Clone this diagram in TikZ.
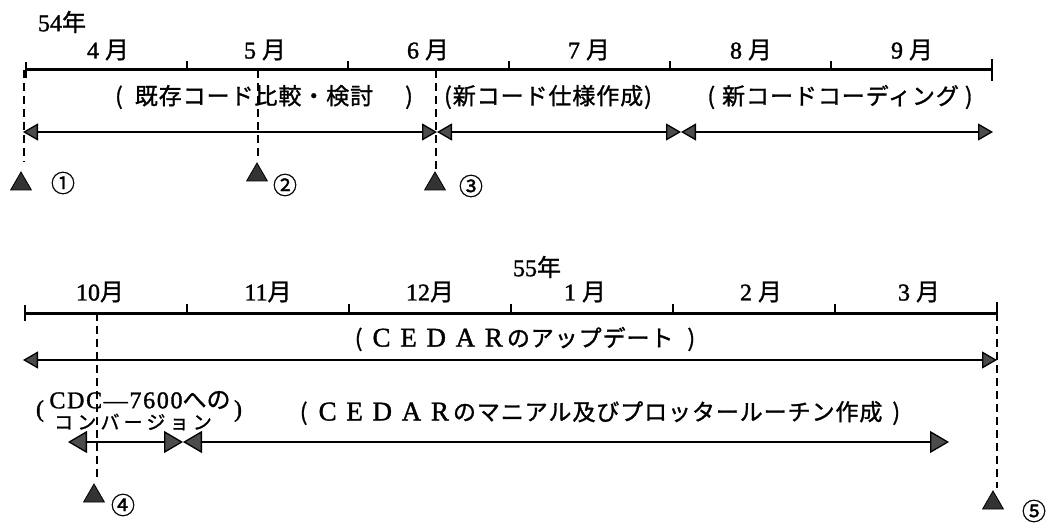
\documentclass[tikz,border=0pt]{standalone}
\usepackage{fontspec}
\setmainfont{Liberation Serif}[FakeBold=1.4]
\newfontfamily\jp{Noto Sans CJK JP}[FakeBold=1.2]
\newfontfamily\jpw{Noto Sans CJK JP}[LetterSpace=4,FakeBold=1.2]
\newfontfamily\jpk{Noto Sans CJK JP}[LetterSpace=22,FakeBold=1.2]
\newfontfamily\cedar{Liberation Serif}[LetterSpace=36,FakeBold=1.4]
\newfontfamily\latsp{Liberation Serif}[LetterSpace=7,FakeBold=1.4]
\usetikzlibrary{arrows.meta,shapes.geometric,calc}
\tikzset{
  tl/.style={line width=3pt},
  tickmark/.style={line width=1.8pt},
  act/.style={line width=1.3pt,
    {Triangle[length=15pt,width=17pt,fill=black!70]}-{Triangle[length=15pt,width=17pt,fill=black!70]}},
  actbig/.style={line width=1.3pt,
    {Triangle[length=19pt,width=22pt,fill=black!70]}-{Triangle[length=19pt,width=22pt,fill=black!70]}},
  dsh/.style={line width=1.4pt, dash pattern=on 8pt off 5pt},
  mk/.style={regular polygon, regular polygon sides=3, minimum size=24pt, inner sep=0pt,
    fill=black!80, draw=black, line width=0.8pt},
  mon/.style={inner sep=0pt, font=\fontsize{24}{24}\selectfont},
  yr/.style={inner sep=0pt, font=\fontsize{24}{24}\selectfont},
  num/.style={inner sep=0pt, font=\jp\fontsize{24}{24}\selectfont},
  txt/.style={inner sep=0pt, font=\jpw\fontsize{23}{23}\selectfont},
}
\begin{document}
\begin{tikzpicture}[x=1pt,y=-1pt]
\useasboundingbox (0,0) rectangle (1048,529);

% ---------- top timeline ----------
\foreach \i in {0,...,6} { \coordinate (a\i) at (26+161*\i,70); }
\draw[tl] (a0) -- (a6);
\draw[tickmark] ($(a0)+(0,-8)$) -- ($(a0)+(0,8)$);
\draw[tickmark] ($(a6)+(0,-11)$) -- ($(a6)+(0,11)$);
\foreach \i in {1,...,5} { \draw[tickmark] (a\i) -- ++(0,-9); }

\node[yr] (y54) at (62,22) {54{\jp 年}};
\node[mon] (m4) at (108,50) {4 {\jp 月}};
\node[mon] (m5) at (265,50) {5 {\jp 月}};
\node[mon] (m6) at (428,50) {6 {\jp 月}};
\node[mon] (m7) at (589,50) {7 {\jp 月}};
\node[mon] (m8) at (751,50) {8 {\jp 月}};
\node[mon] (m9) at (912,50) {9 {\jp 月}};

% row 1 activities
\coordinate (p0) at (23,132);
\coordinate (p1) at (437,132);
\coordinate (p2) at (681,132);
\coordinate (p3) at (993,132);
\draw[act] (p0) -- (p1);
\draw[act] (p1) -- (p2);
\draw[act] (p2) -- (p3);
\node[txt] (t1) at (264,97) {(\hspace{12pt}既存コード比較・検討\hspace{32pt})};
\node[txt] (t2) at (548,97) {(新コード仕様作成)};
\node[txt] (t3) at (840,97) {(\hspace{7pt}新コードコーディング\hspace{6pt})};

% milestones top
\coordinate (d1) at (24,70);
\coordinate (d2) at (258,70);
\coordinate (d3) at (436,70);
\node[mk] (k1) at (21,184) {};
\node[mk] (k2) at (257,175) {};
\node[mk] (k3) at (435,184) {};
\draw[dsh] (d1) -- ($(d1 |- k1.north)+(0,-10)$);
\draw[dsh] (d2) -- ($(d2 |- k2.north)+(0,-2)$);
\draw[dsh] (d3) -- ($(d3 |- k3.north)+(0,-2)$);
\node[num] (n1) at (63,183) {①};
\node[num] (n2) at (285,185) {②};
\node[num] (n3) at (471,186) {③};

% ---------- bottom timeline ----------
\foreach \i in {0,...,6} { \coordinate (b\i) at (25+162*\i,313); }
\draw[tl] (b0) -- (b6);
\draw[tickmark] ($(b0)+(0,-8)$) -- ($(b0)+(0,8)$);
\draw[tickmark] ($(b6)+(0,-11)$) -- ($(b6)+(0,6)$);
\foreach \i in {1,...,5} { \draw[tickmark] (b\i) -- ++(0,-9); }

\node[yr] (y55) at (537,267) {55{\jp 年}};
\node[mon] (m10) at (100,292) {10{\jp 月}};
\node[mon] (m11) at (268,292) {11{\jp 月}};
\node[mon] (m12) at (430,292) {12{\jp 月}};
\node[mon] (m1) at (585,292) {1 {\jp 月}};
\node[mon] (m2) at (761,292) {2 {\jp 月}};
\node[mon] (m3) at (919,292) {3 {\jp 月}};

% row 2
\coordinate (q0) at (23,360);
\coordinate (q1) at (997,360);
\draw[act] (q0) -- (q1);
\node[txt] (t4) at (525,339) {(\hspace{10pt}{\cedar\fontsize{27}{27}\selectfont CEDAR}\hspace{4pt}のアップデート\hspace{14pt})};

% row 3
\coordinate (r0) at (68,442);
\coordinate (r1) at (183,442);
\coordinate (r2) at (949,442);
\draw[actbig] (r0) -- (r1);
\draw[actbig] (r1) -- (r2);
\node[txt] (t5) at (600,413) {(\hspace{11pt}{\cedar\fontsize{27}{27}\selectfont CEDAR}\hspace{4pt}のマニアル及びプロッタールーチン作成\hspace{10pt})};
\node[inner sep=0pt, font=\fontsize{24}{24}\selectfont] (c1) at (140,400) {{\latsp CDC—7600}{\jp への}};
\node[inner sep=0pt, font=\jpk\fontsize{19}{19}\selectfont] (c2) at (133,422) {コンバージョン};
\node[inner sep=0pt, font=\fontsize{24}{24}\selectfont] (cl) at (40,411) {(};
\node[inner sep=0pt, font=\fontsize{24}{24}\selectfont] (cr) at (238,411) {)};

% milestones bottom
\coordinate (d4) at (97,313);
\coordinate (d5) at (997,313);
\node[mk] (k4) at (94,496) {};
\node[mk] (k5) at (993,503) {};
\draw[dsh] (d4) -- ($(d4 |- k4.north)+(0,-4)$);
\draw[dsh] (d5) -- ($(d5 |- k5.north)+(0,-2)$);
\node[num] (n4) at (123,505) {④};
\node[num] (n5) at (1034,511) {⑤};
\end{tikzpicture}
\end{document}
